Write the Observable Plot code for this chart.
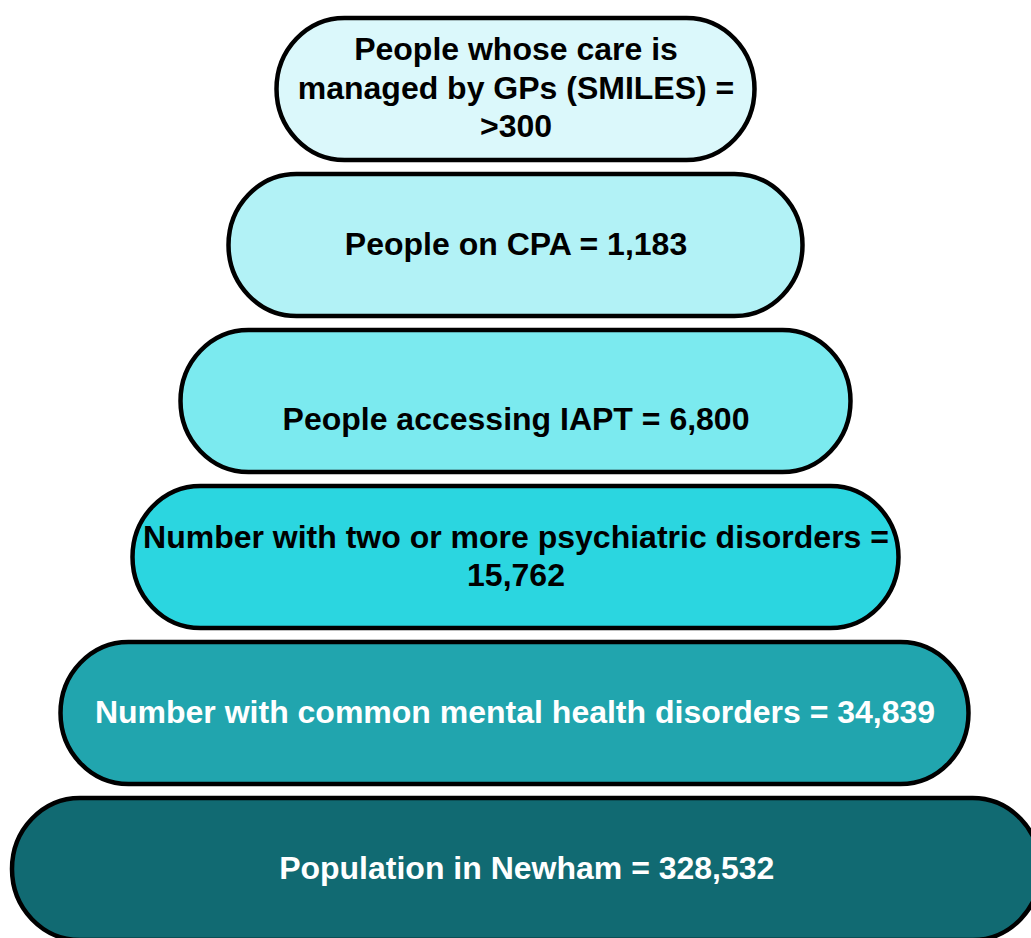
<!DOCTYPE html>
<html>
<head>
<meta charset="utf-8">
<script src="https://cdn.jsdelivr.net/npm/d3@7"></script>
<script src="https://cdn.jsdelivr.net/npm/@observablehq/plot@0.6"></script>
<style>
  html, body { margin: 0; padding: 0; background: #ffffff; overflow: hidden; }
  #chart { width: 1031px; height: 938px; overflow: hidden; }
</style>
</head>
<body>
<div id="chart"></div>
<script>
// Pyramid levels, top to bottom
const labels = [
  "People whose care is\nmanaged by GPs (SMILES) =",
  "People on CPA =",
  "\nPeople accessing IAPT =",
  "Number with two or more psychiatric disorders =",
  "Number with common mental health disorders =",
  "Population in Newham ="
];
const values = [">300", "1,183", "6,800", "15,762", "34,839", "328,532"];
// whether value goes on a new line
const valueOnNewLine = [true, false, false, true, false, false];

// layout (pixels relative to centre) and styling, kept apart from the data
const leftEdge  = [-239, -287, -335, -383, -455, -503.5];
const rightEdge = [ 239,  287,  335,  383,  453,  525];
const fills = ["#dbf8fb", "#b2f2f6", "#7beaef", "#2bd6e0", "#21a5ae", "#116a72"];
const textColors = ["#000000", "#000000", "#000000", "#000000", "#ffffff", "#ffffff"];

const rows = labels.map((l, i) => ({
  level: i,
  text: l + (valueOnNewLine[i] ? "\n" : " ") + values[i],
  x1: leftEdge[i],
  x2: rightEdge[i],
  fill: fills[i],
  color: textColors[i]
}));

const chart = Plot.plot({
  width: 1031,
  height: 938,
  margin: 0,
  style: { background: "#ffffff", overflow: "hidden" },
  x: { domain: [-515.5, 515.5], axis: null },
  y: { domain: rows.map(d => d.level), range: [11, 947], paddingInner: 0.09, paddingOuter: 0.045, axis: null },
  marks: [
    Plot.barX(rows, {
      x1: "x1", x2: "x2", y: "level",
      fill: d => d.fill,
      stroke: "#000000", strokeWidth: 4.5,
      rx: 68, ry: 71
    }),
    Plot.text(rows, {
      x: d => (d.x1 + d.x2) / 2,
      y: "level",
      text: "text",
      fill: d => d.color,
      fontSize: 32,
      fontWeight: "bold",
      fontFamily: "'Liberation Sans', Arial, sans-serif",
      lineHeight: 1.2,
      textAnchor: "middle",
      dy: -3
    })
  ]
});
document.getElementById("chart").appendChild(chart);
</script>
</body>
</html>
